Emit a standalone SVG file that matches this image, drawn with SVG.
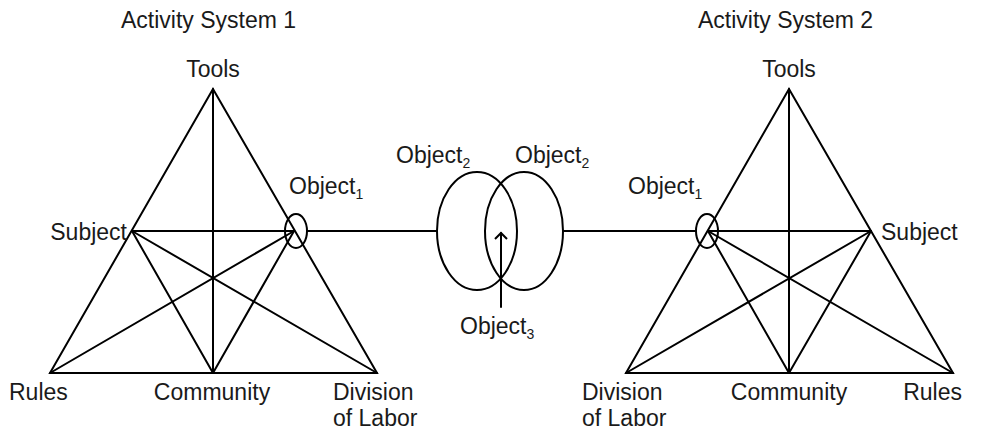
<svg xmlns="http://www.w3.org/2000/svg" width="992" height="433" viewBox="0 0 992 433">
<defs>
<style>
text{font-family:"Liberation Sans","Noto Sans",Arial,sans-serif;font-size:23px;fill:#1a1a1a}
.sub{font-size:14px}
.ln{stroke:#000;stroke-width:2;fill:none;stroke-linecap:round}
</style>
<marker id="open" markerWidth="14" markerHeight="14" refX="7" refY="7" orient="auto" markerUnits="userSpaceOnUse">
<path d="M1,1 L7,7 L1,13" fill="none" stroke="#000" stroke-width="2"/>
</marker>
</defs>
<rect width="992" height="433" fill="#fff"/>
<g id="connectors">
<path class="ln" d="M213,89 L50,373 L377,373 Z"/>
<path class="ln" d="M213,89 L213,373"/>
<path class="ln" d="M132,231 L294,231"/>
<path class="ln" d="M132,231 L377,373"/>
<path class="ln" d="M132,231 L213,373"/>
<path class="ln" d="M294,231 L50,373"/>
<path class="ln" d="M294,231 L213,373"/>
<path class="ln" d="M789,89 L626,373 L953,373 Z"/>
<path class="ln" d="M789,89 L789,373"/>
<path class="ln" d="M708,231 L871,231"/>
<path class="ln" d="M708,231 L953,373"/>
<path class="ln" d="M708,231 L789,373"/>
<path class="ln" d="M871,231 L626,373"/>
<path class="ln" d="M871,231 L789,373"/>
<path class="ln" d="M307,231 L437,231"/>
<path class="ln" d="M563,231 L696,231"/>
<path class="ln" d="M501,307 L501,233" marker-end="url(#open)"/>
</g>
<g id="title1"><text x="121" y="28">Activity System 1</text></g>
<g id="title2"><text x="698" y="28">Activity System 2</text></g>
<g id="tools1"><text x="213" y="77" text-anchor="middle">Tools</text></g>
<g id="subject1"><text x="127" y="240" text-anchor="end">Subject</text></g>
<g id="object1-left">
<ellipse class="ln" cx="296" cy="231" rx="11" ry="17"/>
<text x="289" y="194">Object<tspan class="sub" dy="5">1</tspan></text>
</g>
<g id="rules1"><text x="9" y="400">Rules</text></g>
<g id="community1"><text x="212" y="400" text-anchor="middle">Community</text></g>
<g id="division1"><text x="333" y="400">Division</text><text x="333" y="426">of Labor</text></g>
<g id="object2-left">
<ellipse class="ln" cx="477" cy="231" rx="40" ry="59"/>
<text x="396" y="163">Object<tspan class="sub" dy="5">2</tspan></text>
</g>
<g id="object2-right">
<ellipse class="ln" cx="524" cy="231" rx="39" ry="59"/>
<text x="515" y="163">Object<tspan class="sub" dy="5">2</tspan></text>
</g>
<g id="object3"><text x="460" y="334">Object<tspan class="sub" dy="5">3</tspan></text></g>
<g id="tools2"><text x="789" y="77" text-anchor="middle">Tools</text></g>
<g id="object1-right">
<ellipse class="ln" cx="707" cy="231" rx="11" ry="17"/>
<text x="628" y="194">Object<tspan class="sub" dy="5">1</tspan></text>
</g>
<g id="subject2"><text x="881" y="240">Subject</text></g>
<g id="division2"><text x="582" y="400">Division</text><text x="582" y="426">of Labor</text></g>
<g id="community2"><text x="789" y="400" text-anchor="middle">Community</text></g>
<g id="rules2"><text x="962" y="400" text-anchor="end">Rules</text></g>
</svg>
